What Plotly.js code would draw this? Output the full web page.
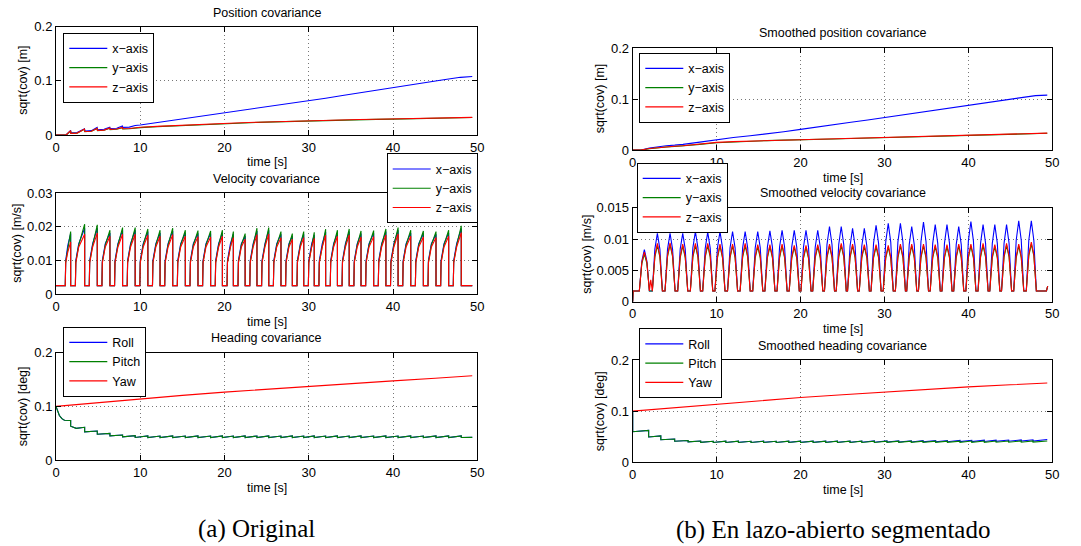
<!DOCTYPE html>
<html><head><meta charset="utf-8">
<script src="https://cdn.plot.ly/plotly-3.0.1.min.js"></script>
<style>html,body{margin:0;padding:0;background:#fff;} #chart{width:1081px;height:546px;}</style>
</head><body><div id="chart"></div>
<script>
// ---------------- tick labels ----------------
const xTicks = [0, 10, 20, 30, 40, 50];
const yTicksPos = [0, 0.1, 0.2];
const yTicksVelA = [0, 0.01, 0.02, 0.03];
const yTicksVelB = [0, 0.005, 0.01, 0.015];
const yTicksHead = [0, 0.1, 0.2];

// ---------------- (a) position ----------------
const posTimeA = [0, 1.2, 1.74, 1.76, 2.5, 3.38, 3.42, 4.2, 4.88, 4.92, 5.7, 6.38, 6.42, 7.2, 7.88, 7.92, 8.7, 9.4, 10, 12, 14, 16, 18, 20, 22, 24, 26, 28, 30, 32, 34, 36, 38, 40, 42, 44, 46, 48, 49.4];
const posXA = [0, 0, 0.0085, 0.004, 0.0045, 0.0115, 0.0075, 0.008, 0.014, 0.0095, 0.0105, 0.0145, 0.012, 0.0125, 0.0165, 0.014, 0.0145, 0.0175, 0.0185, 0.023, 0.027, 0.031, 0.0355, 0.040, 0.045, 0.0495, 0.054, 0.059, 0.0636, 0.068, 0.073, 0.078, 0.0828, 0.0877, 0.092, 0.097, 0.102, 0.1065, 0.108];
const posYA = [0, 0, 0.0075, 0.003, 0.0033, 0.0105, 0.0063, 0.0068, 0.012, 0.0082, 0.0087, 0.0125, 0.010, 0.0105, 0.0135, 0.011, 0.0115, 0.013, 0.0137, 0.0155, 0.017, 0.0185, 0.0199, 0.0212, 0.0223, 0.0233, 0.0243, 0.0253, 0.0262, 0.027, 0.0277, 0.0283, 0.0289, 0.0294, 0.030, 0.0306, 0.0313, 0.032, 0.0323];
const posZA = [0, 0, 0.008, 0.003, 0.0035, 0.011, 0.0065, 0.007, 0.0125, 0.0085, 0.009, 0.013, 0.0105, 0.011, 0.014, 0.0115, 0.012, 0.0135, 0.0142, 0.016, 0.0175, 0.019, 0.0203, 0.0216, 0.0226, 0.0236, 0.0246, 0.0256, 0.0265, 0.0273, 0.028, 0.0286, 0.0291, 0.0296, 0.0302, 0.0308, 0.0315, 0.0322, 0.0326];

// ---------------- (b) smoothed position ----------------
const posTimeB = [0, 1, 2, 3, 4, 5, 6, 8, 10, 12, 14, 16, 18, 20, 22, 24, 26, 28, 30, 32, 34, 36, 38, 40, 42, 44, 46, 48, 49.4];
const posXB = [0, 0, 0.004, 0.0065, 0.0085, 0.0095, 0.011, 0.0155, 0.0205, 0.0245, 0.028, 0.0315, 0.036, 0.0405, 0.0455, 0.050, 0.0545, 0.059, 0.0638, 0.0685, 0.0735, 0.078, 0.083, 0.0876, 0.0925, 0.097, 0.1015, 0.107, 0.108];
const posYB = [0, 0, 0.0025, 0.0045, 0.006, 0.007, 0.008, 0.011, 0.0142, 0.016, 0.0173, 0.0185, 0.0195, 0.0199, 0.0208, 0.0217, 0.0226, 0.0234, 0.0251, 0.0259, 0.0267, 0.0275, 0.0283, 0.029, 0.0298, 0.0306, 0.0313, 0.0322, 0.0328];
const posZB = [0, 0, 0.003, 0.005, 0.0065, 0.0075, 0.0085, 0.0115, 0.015, 0.0165, 0.0178, 0.019, 0.0198, 0.0203, 0.0212, 0.0221, 0.023, 0.0238, 0.0255, 0.0263, 0.0271, 0.0279, 0.0287, 0.0294, 0.0302, 0.031, 0.0317, 0.0326, 0.0332];

// ---------------- (a) velocity ----------------
const velTimeA = [0,
 1.10,1.15,1.40,1.74,1.74, 2.30,2.35,2.70,3.40,3.40, 3.95,4.00,4.35,4.90,4.90, 5.45,5.50,5.85,6.40,6.40,
 6.95,7.00,7.35,7.90,7.90, 8.45,8.50,8.85,9.40,9.40, 9.95,10.00,10.35,10.90,10.90, 11.45,11.50,11.85,12.35,12.35,
 12.90,12.95,13.30,13.85,13.85, 14.40,14.45,14.80,15.35,15.35, 15.90,15.95,16.30,16.85,16.85, 17.40,17.45,17.80,18.35,18.35,
 18.90,18.95,19.30,19.75,19.75, 20.30,20.35,20.70,21.05,21.05, 21.60,21.65,22.00,22.45,22.45, 23.00,23.05,23.40,23.85,23.85,
 24.40,24.45,24.80,25.25,25.25, 25.80,25.85,26.20,26.70,26.70, 27.25,27.30,27.65,28.05,28.05, 28.60,28.65,29.00,29.40,29.40,
 29.95,30.00,30.35,30.65,30.65, 31.20,31.25,31.60,32.00,32.00, 32.55,32.60,32.95,33.40,33.40, 33.95,34.00,34.35,34.80,34.80,
 35.35,35.40,35.75,36.20,36.20, 36.75,36.80,37.15,37.70,37.70, 38.25,38.30,38.65,39.15,39.15, 39.70,39.75,40.10,40.60,40.60,
 41.15,41.20,41.55,42.10,42.10, 42.65,42.70,43.05,43.60,43.60, 44.15,44.20,44.55,45.10,45.10, 45.65,45.70,46.05,46.60,46.60,
 47.15,47.20,47.55,48.10,48.10,
 49.40];
const velXA = [0.0025,
 0.0025,0.0100,0.0145,0.0180,0.0025, 0.0025,0.0100,0.0150,0.0196,0.0025, 0.0025,0.0100,0.0150,0.0196,0.0025, 0.0025,0.0100,0.0150,0.0182,0.0025,
 0.0025,0.0100,0.0150,0.0190,0.0025, 0.0025,0.0100,0.0150,0.0190,0.0025, 0.0025,0.0100,0.0150,0.0186,0.0025, 0.0025,0.0100,0.0150,0.0182,0.0025,
 0.0025,0.0100,0.0150,0.0188,0.0025, 0.0025,0.0100,0.0150,0.0182,0.0025, 0.0025,0.0100,0.0150,0.0181,0.0025, 0.0025,0.0100,0.0150,0.0180,0.0025,
 0.0025,0.0100,0.0150,0.0182,0.0025, 0.0025,0.0100,0.0150,0.0178,0.0025, 0.0025,0.0100,0.0150,0.0173,0.0025, 0.0025,0.0100,0.0150,0.0188,0.0025,
 0.0025,0.0100,0.0150,0.0190,0.0025, 0.0025,0.0100,0.0150,0.0178,0.0025, 0.0025,0.0100,0.0150,0.0173,0.0025, 0.0025,0.0100,0.0150,0.0178,0.0025,
 0.0025,0.0100,0.0150,0.0176,0.0025, 0.0025,0.0100,0.0150,0.0185,0.0025, 0.0025,0.0100,0.0150,0.0182,0.0025, 0.0025,0.0100,0.0150,0.0186,0.0025,
 0.0025,0.0100,0.0150,0.0180,0.0025, 0.0025,0.0100,0.0150,0.0181,0.0025, 0.0025,0.0100,0.0150,0.0186,0.0025, 0.0025,0.0100,0.0150,0.0190,0.0025,
 0.0025,0.0100,0.0150,0.0182,0.0025, 0.0025,0.0100,0.0150,0.0180,0.0025, 0.0025,0.0100,0.0150,0.0178,0.0025, 0.0025,0.0100,0.0150,0.0182,0.0025,
 0.0025,0.0100,0.0150,0.0195,0.0025,
 0.0025];
const velYA = [0.0025,
 0.0025,0.0095,0.0140,0.0186,0.0025, 0.0025,0.0095,0.0146,0.0208,0.0025, 0.0025,0.0095,0.0146,0.0206,0.0025, 0.0025,0.0095,0.0146,0.0190,0.0025,
 0.0025,0.0095,0.0146,0.0198,0.0025, 0.0025,0.0095,0.0146,0.0198,0.0025, 0.0025,0.0095,0.0146,0.0194,0.0025, 0.0025,0.0095,0.0146,0.0190,0.0025,
 0.0025,0.0095,0.0146,0.0196,0.0025, 0.0025,0.0095,0.0146,0.0190,0.0025, 0.0025,0.0095,0.0146,0.0189,0.0025, 0.0025,0.0095,0.0146,0.0188,0.0025,
 0.0025,0.0095,0.0146,0.0190,0.0025, 0.0025,0.0095,0.0146,0.0186,0.0025, 0.0025,0.0095,0.0146,0.0180,0.0025, 0.0025,0.0095,0.0146,0.0196,0.0025,
 0.0025,0.0095,0.0146,0.0198,0.0025, 0.0025,0.0095,0.0146,0.0186,0.0025, 0.0025,0.0095,0.0146,0.0180,0.0025, 0.0025,0.0095,0.0146,0.0186,0.0025,
 0.0025,0.0095,0.0146,0.0184,0.0025, 0.0025,0.0095,0.0146,0.0193,0.0025, 0.0025,0.0095,0.0146,0.0190,0.0025, 0.0025,0.0095,0.0146,0.0194,0.0025,
 0.0025,0.0095,0.0146,0.0188,0.0025, 0.0025,0.0095,0.0146,0.0189,0.0025, 0.0025,0.0095,0.0146,0.0194,0.0025, 0.0025,0.0095,0.0146,0.0198,0.0025,
 0.0025,0.0095,0.0146,0.0190,0.0025, 0.0025,0.0095,0.0146,0.0188,0.0025, 0.0025,0.0095,0.0146,0.0186,0.0025, 0.0025,0.0095,0.0146,0.0190,0.0025,
 0.0025,0.0095,0.0146,0.0203,0.0025,
 0.0025];
const velZA = [0.0025,
 0.0025,0.0093,0.0125,0.0155,0.0025, 0.0025,0.0093,0.0140,0.0178,0.0025, 0.0025,0.0093,0.0140,0.0182,0.0025, 0.0025,0.0093,0.0140,0.0172,0.0025,
 0.0025,0.0093,0.0140,0.0178,0.0025, 0.0025,0.0093,0.0140,0.0178,0.0025, 0.0025,0.0093,0.0140,0.0175,0.0025, 0.0025,0.0093,0.0140,0.0172,0.0025,
 0.0025,0.0093,0.0140,0.0177,0.0025, 0.0025,0.0093,0.0140,0.0172,0.0025, 0.0025,0.0093,0.0140,0.0171,0.0025, 0.0025,0.0093,0.0140,0.0170,0.0025,
 0.0025,0.0093,0.0140,0.0172,0.0025, 0.0025,0.0093,0.0140,0.0168,0.0025, 0.0025,0.0093,0.0140,0.0163,0.0025, 0.0025,0.0093,0.0140,0.0177,0.0025,
 0.0025,0.0093,0.0140,0.0179,0.0025, 0.0025,0.0093,0.0140,0.0168,0.0025, 0.0025,0.0093,0.0140,0.0163,0.0025, 0.0025,0.0093,0.0140,0.0168,0.0025,
 0.0025,0.0093,0.0140,0.0166,0.0025, 0.0025,0.0093,0.0140,0.0175,0.0025, 0.0025,0.0093,0.0140,0.0172,0.0025, 0.0025,0.0093,0.0140,0.0176,0.0025,
 0.0025,0.0093,0.0140,0.0170,0.0025, 0.0025,0.0093,0.0140,0.0171,0.0025, 0.0025,0.0093,0.0140,0.0176,0.0025, 0.0025,0.0093,0.0140,0.0179,0.0025,
 0.0025,0.0093,0.0140,0.0172,0.0025, 0.0025,0.0093,0.0140,0.0170,0.0025, 0.0025,0.0093,0.0140,0.0168,0.0025, 0.0025,0.0093,0.0140,0.0172,0.0025,
 0.0025,0.0093,0.0140,0.0183,0.0025,
 0.0025];

// ---------------- (b) smoothed velocity ----------------
const velTimeB = [0, 0.05,
 0.79,1.09,1.39,1.69,1.99,
 2.15,
 2.34,2.64,2.94,3.24,3.54, 3.85,4.15,4.45,4.75,5.05, 5.36,5.66,5.96,6.26,6.56, 6.87,7.17,7.47,7.77,8.07,
 8.34,8.64,8.94,9.24,9.54, 9.80,10.10,10.40,10.70,11.00, 11.30,11.60,11.90,12.20,12.50, 12.80,13.10,13.40,13.70,14.00,
 14.30,14.60,14.90,15.20,15.50, 15.75,16.05,16.35,16.65,16.95, 17.20,17.50,17.80,18.10,18.40, 18.65,18.95,19.25,19.55,19.85,
 20.05,20.35,20.65,20.95,21.25, 21.45,21.75,22.05,22.35,22.65, 22.85,23.15,23.45,23.75,24.05, 24.25,24.55,24.85,25.15,25.45,
 25.60,25.90,26.20,26.50,26.80, 27.00,27.30,27.60,27.90,28.20, 28.40,28.70,29.00,29.30,29.60, 29.85,30.15,30.45,30.75,31.05,
 31.30,31.60,31.90,32.20,32.50, 32.65,32.95,33.25,33.55,33.85, 34.05,34.35,34.65,34.95,35.25, 35.45,35.75,36.05,36.35,36.65,
 36.85,37.15,37.45,37.75,38.05, 38.25,38.55,38.85,39.15,39.45, 39.70,40.00,40.30,40.60,40.90, 41.15,41.45,41.75,42.05,42.35,
 42.55,42.85,43.15,43.45,43.75, 43.95,44.25,44.55,44.85,45.15, 45.40,45.70,46.00,46.30,46.60, 46.90,47.20,47.50,47.80,48.10,
 49.30,49.45];
const velXB = [0, 0.0017,
 0.0017,0.0065,0.0083,0.0065,0.0017,
 0.0017,
 0.0017,0.0084,0.0109,0.0084,0.0017, 0.0017,0.0084,0.0109,0.0084,0.0017, 0.0017,0.0084,0.0109,0.0084,0.0017, 0.0017,0.0086,0.0112,0.0086,0.0017,
 0.0017,0.0085,0.0111,0.0085,0.0017, 0.0017,0.0086,0.0112,0.0086,0.0017, 0.0017,0.0086,0.0112,0.0086,0.0017, 0.0017,0.0086,0.0112,0.0086,0.0017,
 0.0017,0.0086,0.0112,0.0086,0.0017, 0.0017,0.0087,0.0113,0.0087,0.0017, 0.0017,0.0087,0.0114,0.0087,0.0017, 0.0017,0.0087,0.0114,0.0087,0.0017,
 0.0017,0.0087,0.0114,0.0087,0.0017, 0.0017,0.0087,0.0114,0.0087,0.0017, 0.0017,0.0091,0.0120,0.0091,0.0017, 0.0017,0.0091,0.0120,0.0091,0.0017,
 0.0017,0.0089,0.0117,0.0089,0.0017, 0.0017,0.0089,0.0117,0.0089,0.0017, 0.0017,0.0093,0.0122,0.0093,0.0017, 0.0017,0.0095,0.0125,0.0095,0.0017,
 0.0017,0.0095,0.0125,0.0095,0.0017, 0.0017,0.0091,0.0120,0.0091,0.0017, 0.0017,0.0096,0.0127,0.0096,0.0017, 0.0017,0.0093,0.0123,0.0093,0.0017,
 0.0017,0.0093,0.0123,0.0093,0.0017, 0.0017,0.0091,0.0120,0.0091,0.0017, 0.0017,0.0097,0.0128,0.0097,0.0017, 0.0017,0.0093,0.0123,0.0093,0.0017,
 0.0017,0.0093,0.0123,0.0093,0.0017, 0.0017,0.0093,0.0123,0.0093,0.0017, 0.0017,0.0098,0.0129,0.0098,0.0017, 0.0017,0.0098,0.0129,0.0098,0.0017,
 0.0017,0.0025];
const velYB = [0, 0.0017,
 0.0017,0.0061,0.0076,0.0061,0.0017,
 0.0017,
 0.0017,0.0071,0.0090,0.0071,0.0017, 0.0017,0.0072,0.0091,0.0072,0.0017, 0.0017,0.0070,0.0089,0.0070,0.0017, 0.0017,0.0071,0.0090,0.0071,0.0017,
 0.0017,0.0071,0.0090,0.0071,0.0017, 0.0017,0.0070,0.0089,0.0070,0.0017, 0.0017,0.0070,0.0089,0.0070,0.0017, 0.0017,0.0071,0.0090,0.0071,0.0017,
 0.0017,0.0070,0.0088,0.0070,0.0017, 0.0017,0.0070,0.0088,0.0070,0.0017, 0.0017,0.0070,0.0089,0.0070,0.0017, 0.0017,0.0069,0.0087,0.0069,0.0017,
 0.0017,0.0069,0.0087,0.0069,0.0017, 0.0017,0.0070,0.0088,0.0070,0.0017, 0.0017,0.0070,0.0089,0.0070,0.0017, 0.0017,0.0071,0.0090,0.0071,0.0017,
 0.0017,0.0070,0.0089,0.0070,0.0017, 0.0017,0.0070,0.0088,0.0070,0.0017, 0.0017,0.0070,0.0088,0.0070,0.0017, 0.0017,0.0069,0.0087,0.0069,0.0017,
 0.0017,0.0070,0.0089,0.0070,0.0017, 0.0017,0.0070,0.0089,0.0070,0.0017, 0.0017,0.0070,0.0089,0.0070,0.0017, 0.0017,0.0070,0.0088,0.0070,0.0017,
 0.0017,0.0070,0.0088,0.0070,0.0017, 0.0017,0.0070,0.0089,0.0070,0.0017, 0.0017,0.0070,0.0089,0.0070,0.0017, 0.0017,0.0071,0.0090,0.0071,0.0017,
 0.0017,0.0070,0.0088,0.0070,0.0017, 0.0017,0.0071,0.0090,0.0071,0.0017, 0.0017,0.0070,0.0089,0.0070,0.0017, 0.0017,0.0073,0.0092,0.0073,0.0017,
 0.0017,0.0025];
const velZB = [0, 0.0017,
 0.0017,0.0063,0.0079,0.0063,0.0017,
 0.0035,
 0.0017,0.0073,0.0093,0.0073,0.0017, 0.0017,0.0074,0.0094,0.0074,0.0017, 0.0017,0.0072,0.0092,0.0072,0.0017, 0.0017,0.0073,0.0093,0.0073,0.0017,
 0.0017,0.0073,0.0093,0.0073,0.0017, 0.0017,0.0072,0.0092,0.0072,0.0017, 0.0017,0.0072,0.0092,0.0072,0.0017, 0.0017,0.0073,0.0093,0.0073,0.0017,
 0.0017,0.0072,0.0091,0.0072,0.0017, 0.0017,0.0072,0.0091,0.0072,0.0017, 0.0017,0.0072,0.0092,0.0072,0.0017, 0.0017,0.0071,0.0090,0.0071,0.0017,
 0.0017,0.0071,0.0090,0.0071,0.0017, 0.0017,0.0072,0.0091,0.0072,0.0017, 0.0017,0.0072,0.0092,0.0072,0.0017, 0.0017,0.0073,0.0093,0.0073,0.0017,
 0.0017,0.0072,0.0092,0.0072,0.0017, 0.0017,0.0072,0.0091,0.0072,0.0017, 0.0017,0.0072,0.0091,0.0072,0.0017, 0.0017,0.0071,0.0090,0.0071,0.0017,
 0.0017,0.0072,0.0092,0.0072,0.0017, 0.0017,0.0072,0.0092,0.0072,0.0017, 0.0017,0.0072,0.0092,0.0072,0.0017, 0.0017,0.0072,0.0091,0.0072,0.0017,
 0.0017,0.0072,0.0091,0.0072,0.0017, 0.0017,0.0072,0.0092,0.0072,0.0017, 0.0017,0.0072,0.0092,0.0072,0.0017, 0.0017,0.0073,0.0093,0.0073,0.0017,
 0.0017,0.0072,0.0091,0.0072,0.0017, 0.0017,0.0073,0.0093,0.0073,0.0017, 0.0017,0.0072,0.0092,0.0072,0.0017, 0.0017,0.0075,0.0095,0.0075,0.0017,
 0.0017,0.0025];

// ---------------- (a) heading ----------------
const headTimeA = [0, 0.2, 0.4, 0.7, 1.0, 1.74, 1.74, 2.4,
 3.40,3.40, 4.90,4.90, 6.40,6.40, 7.90,7.90, 9.40,9.40,
 10.90,10.90, 12.35,12.35, 13.85,13.85, 15.35,15.35, 16.85,16.85, 18.35,18.35, 19.75,19.75,
 21.05,21.05, 22.45,22.45, 23.85,23.85, 25.25,25.25, 26.70,26.70, 28.05,28.05, 29.40,29.40,
 30.65,30.65, 32.00,32.00, 33.40,33.40, 34.80,34.80, 36.20,36.20, 37.70,37.70, 39.15,39.15,
 40.60,40.60, 42.10,42.10, 43.60,43.60, 45.10,45.10, 46.60,46.60, 48.10,48.10,
 49.40];
const headRollA = [0.100, 0.090, 0.083, 0.077, 0.074, 0.0735, 0.0630, 0.0590,
 0.0610,0.0525, 0.0540,0.0480, 0.0495,0.0450, 0.0465,0.0432, 0.0455,0.0420,
 0.0448,0.0418, 0.0447,0.0417, 0.0448,0.0418, 0.0447,0.0417, 0.0448,0.0418, 0.0447,0.0417, 0.0448,0.0418,
 0.0447,0.0417, 0.0448,0.0418, 0.0447,0.0417, 0.0448,0.0418, 0.0447,0.0417, 0.0448,0.0418, 0.0447,0.0417,
 0.0448,0.0418, 0.0447,0.0417, 0.0448,0.0418, 0.0447,0.0417, 0.0448,0.0418, 0.0447,0.0417, 0.0448,0.0418,
 0.0447,0.0417, 0.0448,0.0418, 0.0447,0.0417, 0.0448,0.0418, 0.0449,0.0419, 0.0450,0.0419,
 0.0421];
const headPitchA = [0.100, 0.090, 0.083, 0.077, 0.074, 0.0735, 0.0630, 0.0590,
 0.0610,0.0525, 0.0540,0.0480, 0.0495,0.0450, 0.0465,0.0432, 0.0455,0.0420,
 0.0448,0.0418, 0.0447,0.0417, 0.0448,0.0418, 0.0447,0.0417, 0.0448,0.0418, 0.0447,0.0417, 0.0448,0.0418,
 0.0447,0.0417, 0.0448,0.0418, 0.0447,0.0417, 0.0448,0.0418, 0.0447,0.0417, 0.0448,0.0418, 0.0447,0.0417,
 0.0448,0.0418, 0.0447,0.0417, 0.0448,0.0418, 0.0447,0.0417, 0.0448,0.0418, 0.0447,0.0417, 0.0448,0.0418,
 0.0447,0.0417, 0.0448,0.0418, 0.0447,0.0417, 0.0448,0.0418, 0.0449,0.0419, 0.0450,0.0419,
 0.0421];
const yawTime = [0, 5, 10, 15, 20, 25, 30, 35, 40, 45, 49.4];
const headYawA = [0.100, 0.1072, 0.1140, 0.1205, 0.1265, 0.1320, 0.1370, 0.1423, 0.1475, 0.1525, 0.1570];

// ---------------- (b) smoothed heading ----------------
const headTimeB = [0, 0, 1.90,1.90, 3.35,3.35, 5.00,5.00, 6.60,6.60, 8.10,8.10,
 9.60,9.60, 11.10,11.10, 12.60,12.60, 14.10,14.10, 15.60,15.60, 17.10,17.10, 18.60,18.60,
 20.00,20.00, 21.50,21.50, 23.00,23.00, 24.40,24.40, 25.90,25.90, 27.30,27.30, 28.80,28.80,
 30.30,30.30, 31.70,31.70, 33.20,33.20, 34.60,34.60, 36.10,36.10, 37.50,37.50, 39.00,39.00,
 40.40,40.40, 41.90,41.90, 43.30,43.30, 44.80,44.80, 46.30,46.30, 47.70,47.70,
 49.40];
const headRollB = [0.100, 0.0597, 0.0625,0.0495, 0.0515,0.0440, 0.0455,0.0412, 0.0425,0.0400, 0.0415,0.0390,
 0.0412,0.0388, 0.0412,0.0388, 0.0413,0.0389, 0.0412,0.0388, 0.0413,0.0389, 0.0412,0.0388, 0.0413,0.0389,
 0.0413,0.0389, 0.0414,0.0390, 0.0414,0.0390, 0.0415,0.0391, 0.0415,0.0391, 0.0416,0.0392, 0.0417,0.0393,
 0.0418,0.0394, 0.0420,0.0396, 0.0421,0.0397, 0.0423,0.0399, 0.0424,0.0400, 0.0426,0.0402, 0.0428,0.0404,
 0.0430,0.0406, 0.0432,0.0408, 0.0434,0.0410, 0.0436,0.0412, 0.0438,0.0414, 0.0440,0.0416,
 0.0445];
const headPitchB = [0.100, 0.0597, 0.0625,0.0495, 0.0515,0.0440, 0.0455,0.0412, 0.0425,0.0400, 0.0415,0.0390,
 0.0412,0.0388, 0.0412,0.0388, 0.0412,0.0388, 0.0411,0.0387, 0.0412,0.0388, 0.0411,0.0387, 0.0412,0.0388,
 0.0412,0.0388, 0.0412,0.0388, 0.0412,0.0388, 0.0412,0.0388, 0.0412,0.0388, 0.0412,0.0388, 0.0412,0.0388,
 0.0413,0.0389, 0.0413,0.0389, 0.0413,0.0389, 0.0413,0.0389, 0.0414,0.0390, 0.0414,0.0390, 0.0414,0.0390,
 0.0415,0.0391, 0.0415,0.0391, 0.0416,0.0392, 0.0416,0.0392, 0.0417,0.0393, 0.0418,0.0394,
 0.0416];
const headYawB = [0.100, 0.1070, 0.1136, 0.1203, 0.1266, 0.1322, 0.1377, 0.1427, 0.1474, 0.1515, 0.1550];

// ---------------- names / titles ----------------
const axisNames = ['x\u2212axis', 'y\u2212axis', 'z\u2212axis'];
const angleNames = ['Roll', 'Pitch', 'Yaw'];
const panelTitles = ['Position covariance', 'Velocity covariance', 'Heading covariance',
  'Smoothed position covariance', 'Smoothed velocity covariance', 'Smoothed heading covariance'];
const yLabels = ['sqrt(cov) [m]', 'sqrt(cov) [m/s]', 'sqrt(cov) [deg]', 'sqrt(cov) [m]', 'sqrt(cov) [m/s]', 'sqrt(cov) [deg]'];
const xLabel = 'time [s]';
const captions = ['(a) Original', '(b) En lazo-abierto segmentado'];

// ---------------- styling ----------------
const BLUE = '#0000ff', GREEN = '#008000', RED = '#ff0000';
const FONT = 'Liberation Sans, Arial, Helvetica, sans-serif';
const W = 1081, H = 546;

function tr(x, y, name, color, n) {
  const s = n === 1 ? '' : String(n);
  return {type: 'scatter', mode: 'lines', x: x, y: y, name: name,
    line: {color: color, width: 1.1}, xaxis: 'x' + s, yaxis: 'y' + s,
    legend: 'legend' + s, hoverinfo: 'skip'};
}

const data = [
  tr(posTimeA, posXA, axisNames[0], BLUE, 1), tr(posTimeA, posYA, axisNames[1], GREEN, 1), tr(posTimeA, posZA, axisNames[2], RED, 1),
  tr(velTimeA, velXA, axisNames[0], BLUE, 2), tr(velTimeA, velYA, axisNames[1], GREEN, 2), tr(velTimeA, velZA, axisNames[2], RED, 2),
  tr(headTimeA, headRollA, angleNames[0], BLUE, 3), tr(headTimeA, headPitchA, angleNames[1], GREEN, 3), tr(yawTime, headYawA, angleNames[2], RED, 3),
  tr(posTimeB, posXB, axisNames[0], BLUE, 4), tr(posTimeB, posYB, axisNames[1], GREEN, 4), tr(posTimeB, posZB, axisNames[2], RED, 4),
  tr(velTimeB, velXB, axisNames[0], BLUE, 5), tr(velTimeB, velYB, axisNames[1], GREEN, 5), tr(velTimeB, velZB, axisNames[2], RED, 5),
  tr(headTimeB, headRollB, angleNames[0], BLUE, 6), tr(headTimeB, headPitchB, angleNames[1], GREEN, 6), tr(yawTime, headYawB, angleNames[2], RED, 6)
];

// panel boxes in pixels: [left, top, right, bottom]
const boxes = [
  [56, 26.7, 477.3, 135], [56, 193.3, 477.3, 294], [56, 352.7, 477.3, 460],
  [632.7, 48.3, 1052.3, 150], [632.7, 207.7, 1052.3, 301.7], [632.7, 360, 1052.3, 462.3]
];
const yRanges = [[0, 0.2], [0, 0.03], [0, 0.2], [0, 0.2], [0, 0.015], [0, 0.2]];
const yTickSets = [yTicksPos, yTicksVelA, yTicksHead, yTicksPos, yTicksVelB, yTicksHead];
const titleY = [13, 179, 337.7, 33.3, 193.3, 345.7];
const xLabY = [162, 321.7, 487.7, 177.7, 329, 490];
const yLabX = [23, 17, 23, 600, 587, 600];
const legendPos = [[63.3, 32.7], [386.7, 153.3], [63.3, 326.7], [639.3, 52.7], [636.7, 162.7], [639.3, 328.3]];

const common = {
  showline: true, linecolor: '#000', linewidth: 1, mirror: 'allticks',
  ticks: 'inside', ticklen: 5, tickcolor: '#000', tickwidth: 1,
  showgrid: true, gridcolor: '#777', griddash: '1px,3px', gridwidth: 1,
  zeroline: false, fixedrange: true,
  tickfont: {family: FONT, size: 13, color: '#000'}
};

const layout = {
  width: W, height: H, margin: {l: 0, r: 0, t: 0, b: 0},
  paper_bgcolor: '#fff', plot_bgcolor: '#fff', showlegend: true,
  annotations: [], font: {family: FONT, size: 12, color: '#000'}
};

for (let i = 0; i < 6; i++) {
  const n = i + 1, s = n === 1 ? '' : String(n);
  const b = boxes[i];
  const xd = [b[0] / W, b[2] / W], yd = [1 - b[3] / H, 1 - b[1] / H];
  layout['xaxis' + s] = Object.assign({}, common, {domain: xd, anchor: 'y' + s, range: [0, 50], tickmode: 'array', tickvals: xTicks});
  layout['yaxis' + s] = Object.assign({}, common, {domain: yd, anchor: 'x' + s, range: yRanges[i], tickmode: 'array', tickvals: yTickSets[i]});
  const lp = legendPos[i];
  layout['legend' + s] = {x: lp[0] / W, y: 1 - lp[1] / H, xanchor: 'left', yanchor: 'top', xref: 'paper', yref: 'paper',
    bgcolor: '#fff', bordercolor: '#000', borderwidth: 1, tracegroupgap: 0, itemwidth: 38,
    font: {family: FONT, size: 12.5, color: '#000'}};
  const cx = (b[0] + b[2]) / 2 / W;
  layout.annotations.push({text: panelTitles[i], xref: 'paper', yref: 'paper', x: cx, y: 1 - titleY[i] / H,
    xanchor: 'center', yanchor: 'middle', showarrow: false, font: {family: FONT, size: 12.5, color: '#000'}});
  layout.annotations.push({text: xLabel, xref: 'paper', yref: 'paper', x: cx, y: 1 - xLabY[i] / H,
    xanchor: 'center', yanchor: 'middle', showarrow: false, font: {family: FONT, size: 12.5, color: '#000'}});
  layout.annotations.push({text: yLabels[i], xref: 'paper', yref: 'paper', x: yLabX[i] / W, y: 1 - (b[1] + b[3]) / 2 / H,
    xanchor: 'center', yanchor: 'middle', textangle: -90, showarrow: false, font: {family: FONT, size: 12.5, color: '#000'}});
}
layout.annotations.push({text: captions[0], xref: 'paper', yref: 'paper', x: 256.8 / W, y: 1 - 529 / H,
  xanchor: 'center', yanchor: 'middle', showarrow: false, font: {family: 'Liberation Serif, DejaVu Serif, serif', size: 25, color: '#000'}});
layout.annotations.push({text: captions[1], xref: 'paper', yref: 'paper', x: 833.3 / W, y: 1 - 530 / H,
  xanchor: 'center', yanchor: 'middle', showarrow: false, font: {family: 'Liberation Serif, DejaVu Serif, serif', size: 25, color: '#000'}});

Plotly.newPlot('chart', data, layout, {staticPlot: true, displayModeBar: false});
</script>
</body></html>
